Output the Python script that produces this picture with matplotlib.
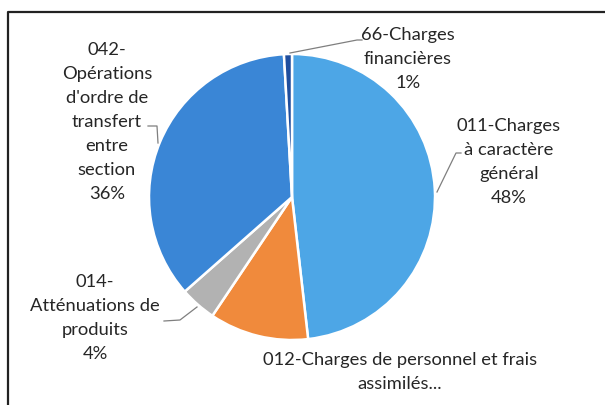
import matplotlib
matplotlib.use("Agg")
import matplotlib.pyplot as plt
import numpy as np

plt.rcParams['font.family'] = ['Lato', 'DejaVu Sans']

categories = [
    "011-Charges\nà caractère\ngénéral",
    "012-Charges de personnel et frais\nassimilés...",
    "014-\nAtténuations de\nproduits",
    "042-\nOpérations\nd'ordre de\ntransfert\nentre\nsection",
    "66-Charges\nfinancières",
]
values = [48.2, 11.2, 4.1, 35.6, 0.9]
pct_labels = ["48%", None, "4%", "36%", "1%"]
colors = ["#4DA6E6", "#F08A3C", "#B2B2B2", "#3A86D6", "#1F4E9E"]

W, H = 605, 406
fig = plt.figure(figsize=(W / 100, H / 100), dpi=100)

# pie axes (pixel geometry: center (292,198), radius 143)
cx, cy, r = 292, 198, 143
pax = fig.add_axes([(cx - r) / W, (H - cy - r) / H, 2 * r / W, 2 * r / H])
wedges, _ = pax.pie(values, colors=colors, startangle=90, counterclock=False,
                    radius=1.0, wedgeprops=dict(edgecolor="white", linewidth=1.8))
pax.set_xlim(-1, 1)
pax.set_ylim(-1, 1)
pax.set_aspect("equal")
pax.axis("off")

# overlay axes in pixel coordinates
ox = fig.add_axes([0, 0, 1, 1], zorder=5)
ox.set_xlim(0, W)
ox.set_ylim(H, 0)
ox.axis("off")
ox.patch.set_alpha(0)

# frame lines
ox.plot([8, 8, W], [H, 13, 13], color="#222222", lw=1.6, solid_capstyle="butt")

txt_kw = dict(fontsize=13.2, color="#262626", ha="center", va="center", linespacing=1.62)

def lbl(i):
    s = categories[i]
    if pct_labels[i]:
        s = s + "\n" + pct_labels[i]
    return s

# label positions (centre of text block)
ox.text(107, 122, lbl(3), **txt_kw)
ox.text(408, 59, lbl(4), **txt_kw)
ox.text(509, 162, lbl(0), **txt_kw)
ox.text(95, 318, lbl(2), **txt_kw)
ox.text(400, 372, lbl(1), **txt_kw)

# leader lines
lc = dict(color="#7f7f7f", lw=0.9)
ox.plot([290, 357, 362], [54, 41, 41], **lc)
ox.plot([158, 157, 148], [144, 127, 127], **lc)
ox.plot([437, 456, 461], [193, 154, 154], **lc)
ox.plot([197, 180, 164], [308, 321, 322], **lc)

fig.savefig("out.png", dpi=100, facecolor="white")
